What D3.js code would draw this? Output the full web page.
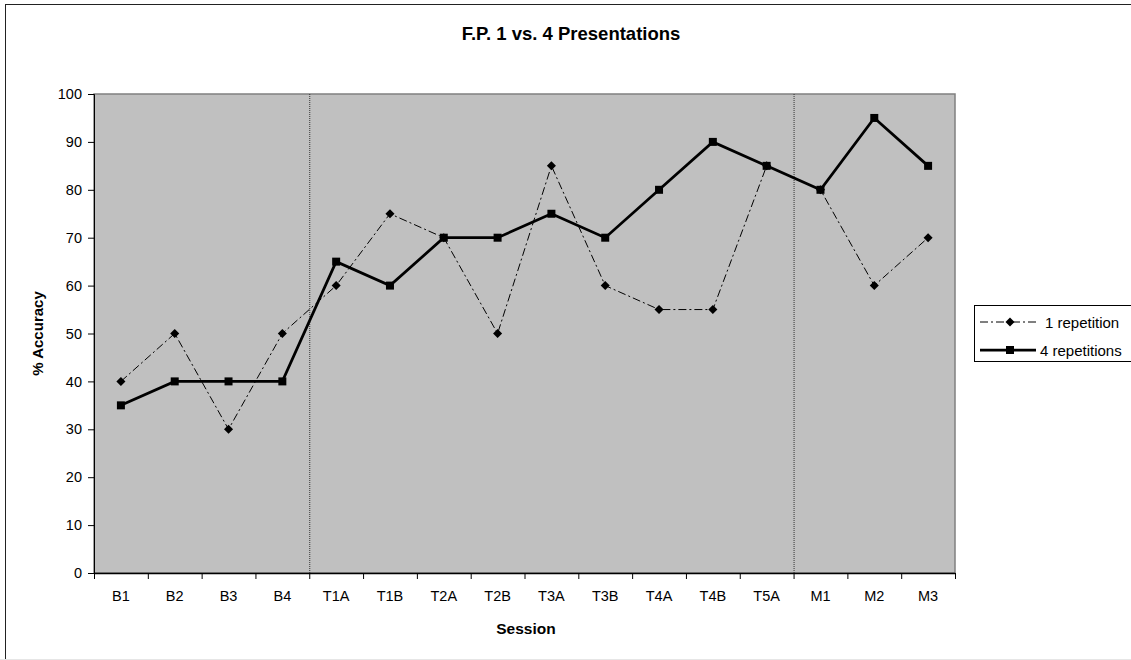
<!DOCTYPE html>
<html>
<head>
<meta charset="utf-8">
<script src="https://cdn.jsdelivr.net/npm/d3@7"></script>
<style>
  body { margin: 0; background: #fff; }
  svg { display: block; font-family: "Liberation Sans", Arial, sans-serif; }
</style>
</head>
<body>
<div id="wrapper"></div>
<script>
// data
const sessions = ["B1","B2","B3","B4","T1A","T1B","T2A","T2B","T3A","T3B","T4A","T4B","T5A","M1","M2","M3"]
const oneRep  = [40,50,30,50,60,75,70,50,85,60,55,55,85,80,60,70]
const fourRep = [35,40,40,40,65,60,70,70,75,70,80,90,85,80,95,85]
const yTicks = [0,10,20,30,40,50,60,70,80,90,100]
const phaseBreaks = ["B4","T5A"]   // dotted separators after these sessions

const dimensions = {
  width: 1131,
  height: 660,
  margin: { top: 94, right: 176, bottom: 87, left: 94 },
}
dimensions.boundedWidth = dimensions.width - dimensions.margin.left - dimensions.margin.right
dimensions.boundedHeight = dimensions.height - dimensions.margin.top - dimensions.margin.bottom

const wrapper = d3.select("#wrapper")
  .append("svg")
    .attr("width", dimensions.width)
    .attr("height", dimensions.height)

// outer chart frame (runs off the right/bottom edge like the original)
wrapper.append("rect")
  .attr("x", 5.5).attr("y", 4.5)
  .attr("width", 1200).attr("height", 700)
  .attr("fill", "none").attr("stroke", "#222").attr("stroke-width", 1)
wrapper.append("line")
  .attr("x1", 0).attr("x2", dimensions.width)
  .attr("y1", 659.5).attr("y2", 659.5)
  .attr("stroke", "#e6e6e6")

const bounds = wrapper.append("g")
  .attr("transform", `translate(${dimensions.margin.left}, ${dimensions.margin.top})`)

const xScale = d3.scaleBand()
  .domain(sessions)
  .range([0, dimensions.boundedWidth])

const yScale = d3.scaleLinear()
  .domain([0, 100])
  .range([dimensions.boundedHeight, 0])

// plot area
bounds.append("rect")
  .attr("width", dimensions.boundedWidth)
  .attr("height", dimensions.boundedHeight)
  .attr("fill", "#c0c0c0")
  .attr("stroke", "#808080")
  .attr("stroke-width", 1.5)

// phase separators
bounds.selectAll(".phase")
  .data(phaseBreaks)
  .enter().append("line")
    .attr("x1", d => xScale(d) + xScale.bandwidth() + 0.5)
    .attr("x2", d => xScale(d) + xScale.bandwidth() + 0.5)
    .attr("y1", 0)
    .attr("y2", dimensions.boundedHeight)
    .attr("stroke", "#333")
    .attr("stroke-width", 1)
    .attr("stroke-dasharray", "1,1")

// axes
const tickFont = 14.5

const yAxisGenerator = d3.axisLeft(yScale)
  .tickValues(yTicks)
  .tickSize(6)
  .tickPadding(6)

const yAxis = bounds.append("g").call(yAxisGenerator)
yAxis.select(".domain").attr("stroke", "#000")
yAxis.selectAll("text").attr("font-size", tickFont).attr("fill", "#000").attr("font-family", "Liberation Sans, Arial")

const xAxisGenerator = d3.axisBottom(xScale)
  .tickSize(0)
  .tickPadding(17.5)

const xAxis = bounds.append("g")
  .attr("transform", `translate(0, ${dimensions.boundedHeight})`)
  .call(xAxisGenerator)
xAxis.select(".domain").attr("stroke", "#000").attr("stroke-width", 1.5)
xAxis.selectAll("text").attr("font-size", tickFont).attr("fill", "#000").attr("font-family", "Liberation Sans, Arial")

// tick marks at category boundaries
xAxis.selectAll(".bound")
  .data(d3.range(sessions.length + 1))
  .enter().append("line")
    .attr("x1", i => i * xScale.step() + 0.5)
    .attr("x2", i => i * xScale.step() + 0.5)
    .attr("y1", 0).attr("y2", 6)
    .attr("stroke", "#000")

// series
const lineGen = d3.line()
  .x((d, i) => xScale(sessions[i]) + xScale.bandwidth() / 2)
  .y(d => yScale(d))

bounds.append("path")
  .datum(oneRep)
  .attr("d", lineGen)
  .attr("fill", "none")
  .attr("stroke", "#000")
  .attr("stroke-width", 1)
  .attr("stroke-dasharray", "8,3,2,3")

bounds.append("path")
  .datum(fourRep)
  .attr("d", lineGen)
  .attr("fill", "none")
  .attr("stroke", "#000")
  .attr("stroke-width", 2.75)

const diamond = d3.symbol().type(d3.symbolDiamond2).size(52)
bounds.selectAll(".dia")
  .data(oneRep)
  .enter().append("path")
    .attr("d", diamond)
    .attr("transform", (d, i) => `translate(${xScale(sessions[i]) + xScale.bandwidth() / 2}, ${yScale(d)})`)
    .attr("fill", "#000")

bounds.selectAll(".sq")
  .data(fourRep)
  .enter().append("rect")
    .attr("x", (d, i) => xScale(sessions[i]) + xScale.bandwidth() / 2 - 4)
    .attr("y", d => yScale(d) - 4)
    .attr("width", 8).attr("height", 8)
    .attr("fill", "#000")

// labels - title is centred on the whole chart frame, which runs past the right edge
wrapper.append("text")
  .attr("x", 571).attr("y", 40)
  .attr("text-anchor", "middle")
  .attr("font-size", 18.5).attr("font-weight", "bold")
  .text("F.P. 1 vs. 4 Presentations")

wrapper.append("text")
  .attr("x", dimensions.margin.left + dimensions.boundedWidth / 2 + 1.5)
  .attr("y", 634)
  .attr("text-anchor", "middle")
  .attr("font-size", 15.5).attr("font-weight", "bold")
  .text("Session")

wrapper.append("text")
  .attr("transform", `translate(43, ${dimensions.margin.top + dimensions.boundedHeight / 2}) rotate(-90)`)
  .attr("text-anchor", "middle")
  .attr("font-size", 15).attr("font-weight", "bold")
  .text("% Accuracy")

// legend
const legend = wrapper.append("g").attr("transform", "translate(974, 305)")
legend.append("rect")
  .attr("x", 0.5).attr("y", 0.5)
  .attr("width", 200).attr("height", 56)
  .attr("fill", "#fff").attr("stroke", "#000")

const legendItems = [
  { name: "1 repetition", dash: "8,3,2,3", width: 1, marker: "diamond" },
  { name: "4 repetitions", dash: null, width: 2.75, marker: "square" },
]
const legendRows = legend.selectAll(".item")
  .data(legendItems)
  .enter().append("g")
    .attr("transform", (d, i) => `translate(0, ${17 + i * 28})`)

legendRows.append("line")
  .attr("x1", 6).attr("x2", 62)
  .attr("stroke", "#000")
  .attr("stroke-width", d => d.width)
  .attr("stroke-dasharray", d => d.dash)

legendRows.filter(d => d.marker === "diamond").append("path")
  .attr("d", diamond)
  .attr("transform", "translate(36, 0)")
legendRows.filter(d => d.marker === "square").append("rect")
  .attr("x", 32).attr("y", -4).attr("width", 8).attr("height", 8)

legendRows.append("text")
  .attr("x", d => d.marker === "diamond" ? 71 : 66)
  .attr("y", 5.5)
  .attr("font-size", 15)
  .text(d => d.name)
</script>
</body>
</html>
